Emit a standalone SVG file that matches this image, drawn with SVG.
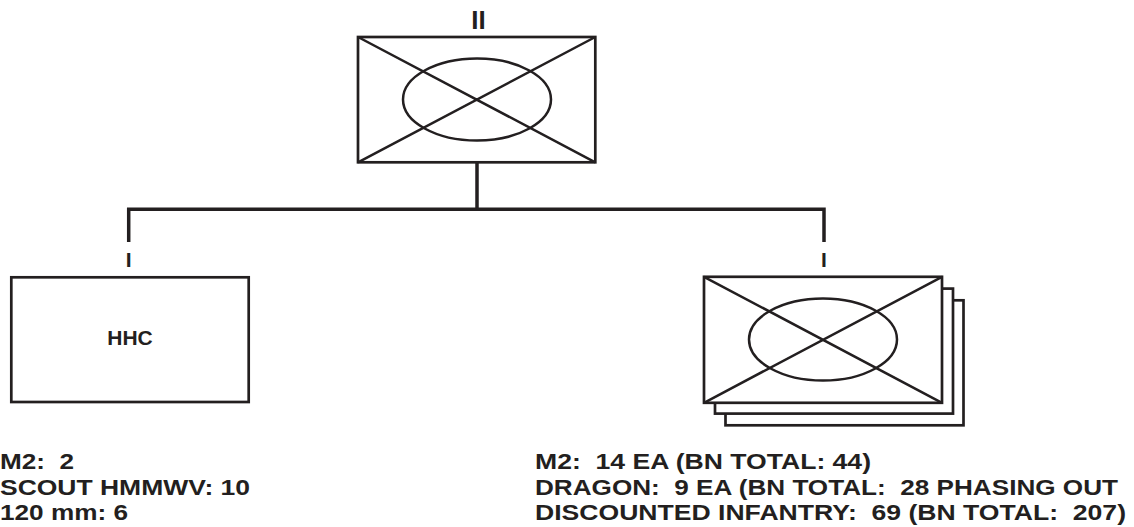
<svg xmlns="http://www.w3.org/2000/svg" width="1134" height="527" viewBox="0 0 1134 527">
<style>
.box{fill:#fff;stroke:#231f20;stroke-width:2.7}
.sym{fill:none;stroke:#231f20;stroke-width:2.5}
.con{fill:none;stroke:#231f20;stroke-width:3.5}
.t{font-family:"Liberation Sans",Arial,sans-serif;font-weight:bold;fill:#231f20}
.lbl{font-size:22.8px}
</style>
<rect width="1134" height="527" fill="#fff"/>
<g id="connectors">
<path class="con" d="M477 162.5V209M128.7 242V209.3H824V242"/>
</g>
<g id="battalion">
<text class="t" x="478.5" y="28.5" font-size="26" text-anchor="middle">II</text>
<rect class="box" x="358" y="37" width="237.3" height="125.3"/>
<path class="sym" d="M358 37L595.3 162.3M595.3 37L358 162.3"/>
<ellipse class="sym" cx="477" cy="99.5" rx="74" ry="41"/>
</g>
<g id="hhc">
<text class="t" x="128.7" y="267" font-size="21" text-anchor="middle">I</text>
<rect class="box" x="11.3" y="277.3" width="237.4" height="124.7"/>
<text class="t" x="130" y="345" font-size="21" text-anchor="middle">HHC</text>
</g>
<g id="companies">
<text class="t" x="824" y="267" font-size="21" text-anchor="middle">I</text>
<rect class="box" x="725.5" y="300.3" width="238" height="125"/>
<rect class="box" x="715" y="288.6" width="238" height="125"/>
<rect class="box" x="704" y="276.8" width="238" height="126"/>
<path class="sym" d="M704 276.8L942 402.8M942 276.8L704 402.8"/>
<ellipse class="sym" cx="823" cy="339.5" rx="74" ry="41"/>
</g>
<g id="hhc-notes">
<text class="t lbl" x="0" y="469" textLength="74" lengthAdjust="spacingAndGlyphs" xml:space="preserve">M2:  2</text>
<text class="t lbl" x="0" y="494.5" textLength="250" lengthAdjust="spacingAndGlyphs">SCOUT HMMWV: 10</text>
<text class="t lbl" x="0" y="520" textLength="128" lengthAdjust="spacingAndGlyphs">120 mm: 6</text>
</g>
<g id="company-notes">
<text class="t lbl" x="535" y="469" textLength="336" lengthAdjust="spacingAndGlyphs" xml:space="preserve">M2:  14 EA (BN TOTAL: 44)</text>
<text class="t lbl" x="535" y="494.5" textLength="583" lengthAdjust="spacingAndGlyphs" xml:space="preserve">DRAGON:  9 EA (BN TOTAL:  28 PHASING OUT</text>
<text class="t lbl" x="535" y="520" textLength="591" lengthAdjust="spacingAndGlyphs" xml:space="preserve">DISCOUNTED INFANTRY:  69 (BN TOTAL:  207)</text>
</g>
</svg>
